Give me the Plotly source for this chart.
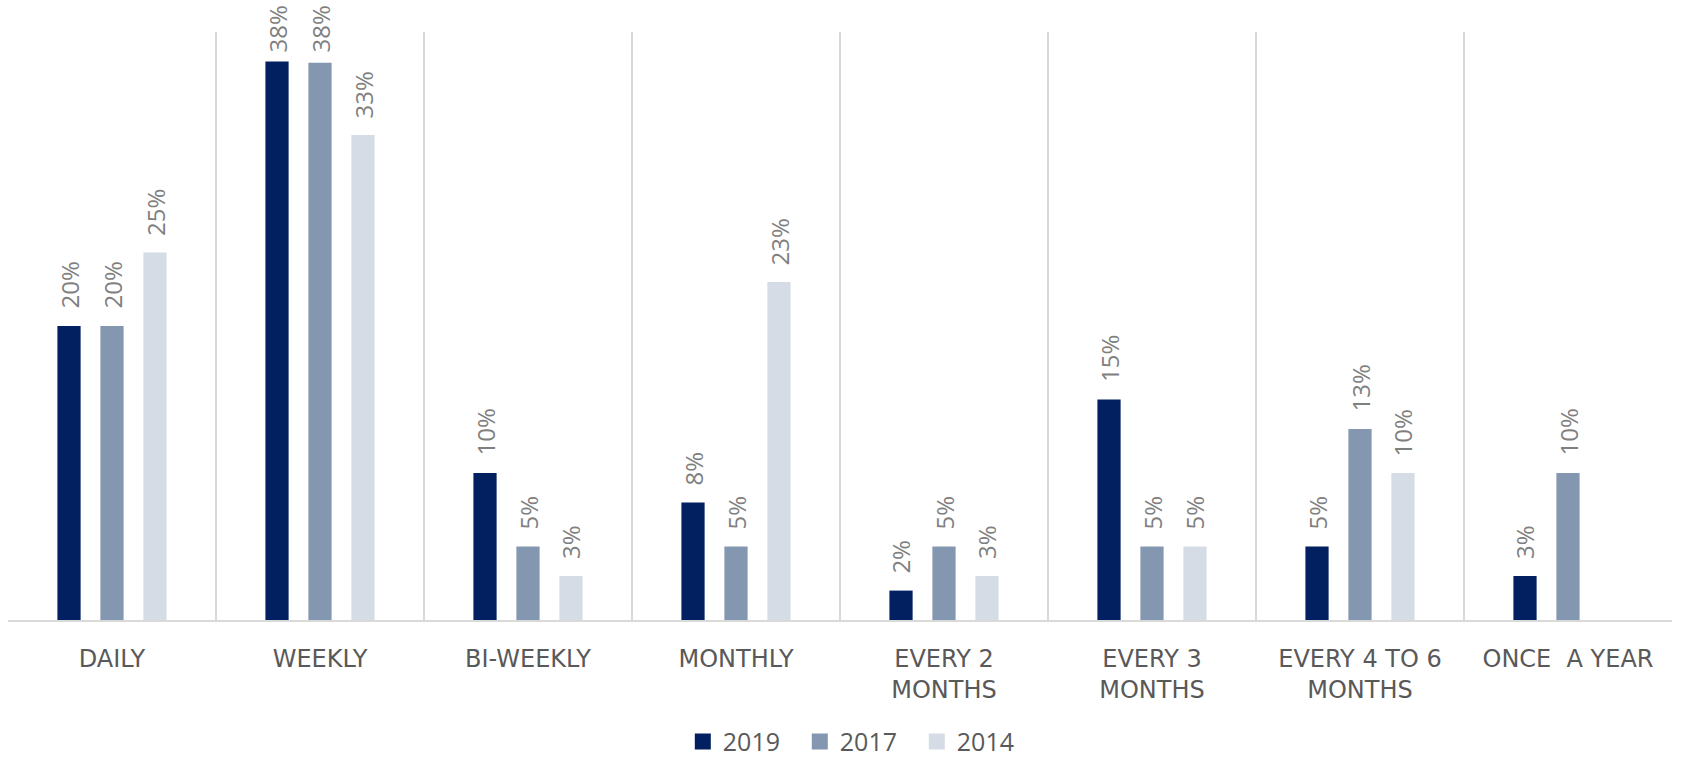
import plotly.graph_objects as go

categories = ["DAILY", "WEEKLY", "BI-WEEKLY", "MONTHLY", "EVERY 2<br>MONTHS",
              "EVERY 3<br>MONTHS", "EVERY 4 TO 6<br>MONTHS", "ONCE  A YEAR"]
series_names = ["2019", "2017", "2014"]
values_2019 = [0.20, 0.38, 0.10, 0.08, 0.02, 0.15, 0.05, 0.03]
values_2017 = [0.20, 0.379, 0.05, 0.05, 0.05, 0.05, 0.13, 0.10]
values_2014 = [0.25, 0.33, 0.03, 0.23, 0.03, 0.05, 0.10, None]
colors = ["#02205F", "#8497B0", "#D6DCE5"]

series_values = [values_2019, values_2017, values_2014]

W, H = 1685, 760
margin = dict(l=8, r=13, t=32, b=140, autoexpand=False)
y_max = 0.4
bargap = 0.38
plot_w = W - margin["l"] - margin["r"]
plot_h = H - margin["t"] - margin["b"]
cat_px = plot_w / len(categories)
slot_px = cat_px * (1 - bargap) / len(series_names)
label_len_px = 50      # approximate length of a rotated data label
label_top_px = 5       # labels are kept inside the chart (pushed down like Excel does)
label_gap_px = 15

FONT = "Open Sans"
TICKFONT = "DejaVu Sans"
fig = go.Figure()
annotations = []
for i, (name, vals, col) in enumerate(zip(series_names, series_values, colors)):
    fig.add_trace(go.Bar(
        name=name, x=categories, y=vals,
        marker=dict(color=col, line=dict(width=0)),
        hoverinfo="skip", showlegend=False,
    ))
    # legend entry with a larger square swatch (draws nothing on the plot)
    fig.add_trace(go.Scatter(
        name=name, x=[categories[0]], y=[None], mode="markers",
        marker=dict(symbol="square", size=16, color=col),
        hoverinfo="skip", showlegend=True,
    ))
    for c, v in zip(categories, vals):
        if v is None:
            continue
        bar_top = margin["t"] + plot_h * (1 - v / y_max)
        ys = min(label_gap_px, bar_top - label_len_px - label_top_px)
        annotations.append(dict(
            x=c, y=v, xref="x", yref="y", text=f"{v:.0%}",
            showarrow=False, textangle=-90, yanchor="bottom", xanchor="center",
            xshift=(i - (len(series_names) - 1) / 2) * slot_px, yshift=ys,
            font=dict(family=FONT, size=24, color="#7F7F7F"),
        ))

fig.update_layout(
    width=W, height=H, margin=margin,
    barmode="group", bargap=bargap, bargroupgap=0.46,
    plot_bgcolor="white", paper_bgcolor="white",
    font=dict(family=FONT, size=24, color="#595959"),
    annotations=annotations,
    showlegend=True,
    legend=dict(orientation="h", x=0.511, xanchor="center", y=-0.207, yanchor="middle",
                font=dict(family=FONT, size=25, color="#595959"), traceorder="normal",
                entrywidth=72, itemclick=False, itemdoubleclick=False, itemsizing="trace"),
    xaxis=dict(type="category", tickson="boundaries", showgrid=True,
               gridcolor="#D9D9D9", gridwidth=1.5, showline=True, linecolor="#D9D9D9",
               linewidth=1.5, ticks="", ticklabelstandoff=16, automargin=False,
               tickfont=dict(family=TICKFONT, size=24, color="#595959"), fixedrange=True),
    yaxis=dict(range=[0, y_max], visible=False, showgrid=False, zeroline=False,
               fixedrange=True, automargin=False),
)

fig.write_html("out.html", config={"displayModeBar": False},
               post_script="document.body.style.margin='0';document.body.style.overflow='hidden';")
